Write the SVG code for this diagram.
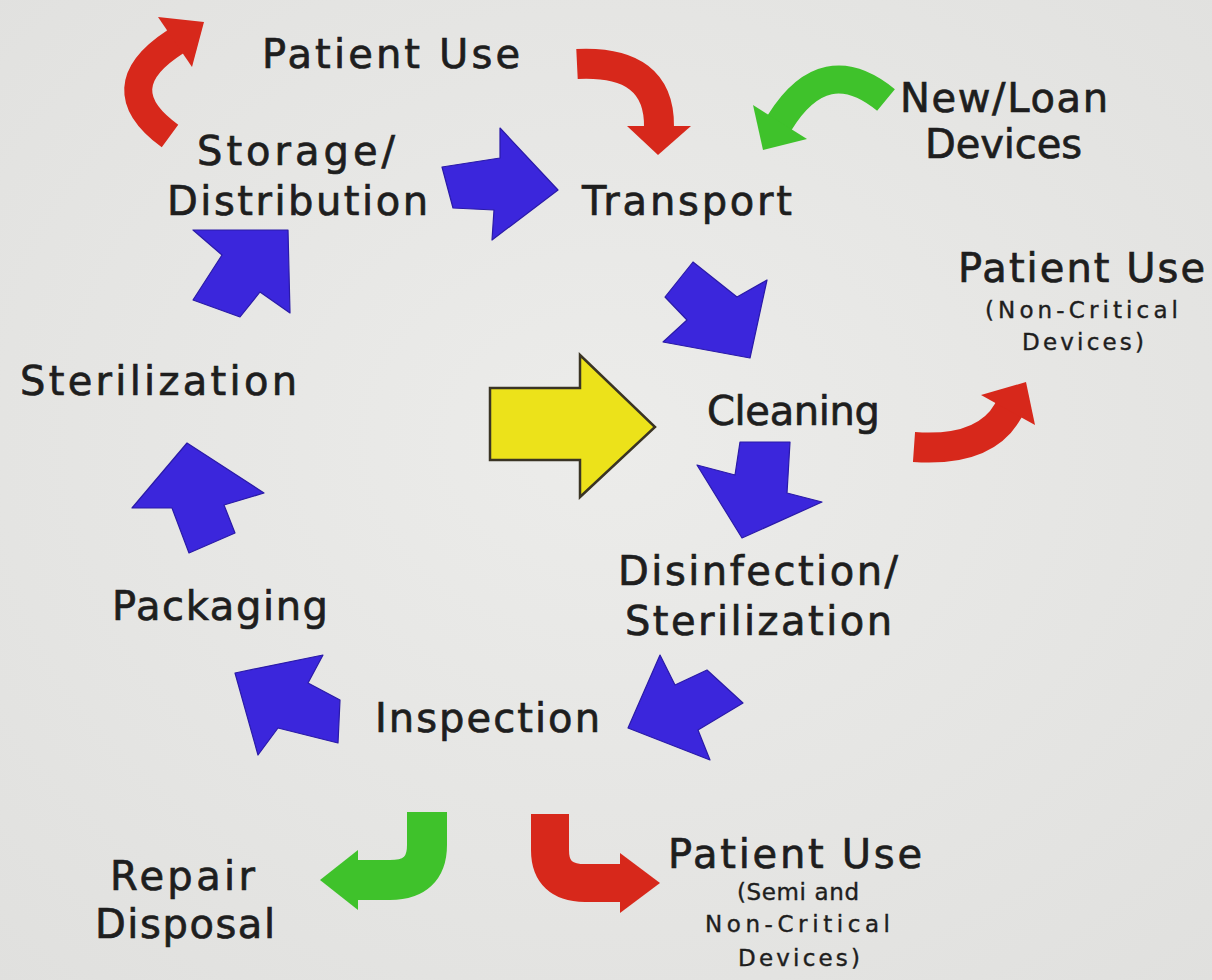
<svg xmlns="http://www.w3.org/2000/svg" width="1212" height="980" viewBox="0 0 1212 980">
  <defs>
    <radialGradient id="bg" cx="50%" cy="45%" r="75%">
      <stop offset="0" stop-color="#ececea"/>
      <stop offset="1" stop-color="#e0e0de"/>
    </radialGradient>
    <style>
      .lbl { font-family: "DejaVu Sans", "Liberation Sans", sans-serif; font-size: 40px; fill: #1e1e1e; stroke: #1e1e1e; stroke-width: 0.7px; }
      .sub { font-size: 23px; stroke-width: 0.4px; }
      .blue { fill: #3b26dc; stroke: #2a1aa8; stroke-width: 1.2; stroke-linejoin: round; }
      .yellow { fill: #ece21a; stroke: #3a3424; stroke-width: 2.5; stroke-linejoin: miter; }
      .band { fill: none; stroke-linecap: butt; stroke-linejoin: round; }
      .red { stroke: #d7281b; }
      .redf { fill: #d7281b; }
      .green { stroke: #3fc22b; }
      .greenf { fill: #3fc22b; }
    </style>
  </defs>

  <rect width="1212" height="980" fill="url(#bg)"/>

  <!-- flow arrows -->
  <g id="connectors">
    <!-- main reprocessing loop -->
    <polygon class="blue" points="442,167 500,158 500,128 558,190 492,240 494,210 453,208"/>
    <polygon class="blue" points="693,262 737,297 767,280 750,358 663,342 687,320 665,297"/>
    <polygon class="blue" points="740,442 790,442 787,493 822,502 742,538 697,465 735,475"/>
    <polygon class="blue" points="660,655 675,685 707,670 743,703 698,730 710,760 628,728"/>
    <polygon class="blue" points="235,673 323,655 308,683 340,700 338,743 278,728 258,755"/>
    <polygon class="blue" points="187,443 264,493 224,505 235,533 189,553 172,508 132,508"/>
    <polygon class="blue" points="288,230 290,313 260,292 240,317 193,300 222,255 193,230"/>

    <!-- entry point -->
    <polygon class="yellow" points="490,388 580,388 580,355 655,427 580,497 580,460 490,460"/>

    <!-- storage to patient use -->
    <path class="band red" stroke-width="28" d="M170,136 Q104,88 175,42 L180,38"/>
    <polygon class="redf" points="158,17 204,22 192,67"/>

    <!-- patient use back to transport -->
    <path class="band red" stroke-width="30" d="M577,64 Q660,60 659,127 L659,132"/>
    <polygon class="redf" points="627,126 691,126 658,155"/>

    <!-- new / loan devices into transport -->
    <path class="band green" stroke-width="28" d="M886,100 Q825,50 780,122 L777,127"/>
    <polygon class="greenf" points="753,105 807,139 763,150"/>

    <!-- cleaning to non-critical patient use -->
    <path class="band red" stroke-width="30" d="M914,447 Q985,452 1008,411 L1011,406"/>
    <polygon class="redf" points="981,395 1035,425 1026,382"/>

    <!-- inspection to repair / disposal -->
    <path class="band green" stroke-width="40" d="M427,812 L427,845 Q427,880 390,880 L352,880"/>
    <polygon class="greenf" points="358,850 358,910 320,880"/>

    <!-- inspection to semi / non-critical patient use -->
    <path class="band red" stroke-width="38" d="M550,814 L550,850 Q550,883 585,883 L626,883"/>
    <polygon class="redf" points="620,853 620,913 660,883"/>
  </g>

  <!-- stage labels -->
  <g id="patient-use-top"><text class="lbl" x="262" y="68" textLength="258">Patient Use</text></g>
  <g id="storage-distribution">
    <text class="lbl" x="197" y="165" textLength="198">Storage/</text>
    <text class="lbl" x="167" y="215" textLength="261">Distribution</text>
  </g>
  <g id="transport"><text class="lbl" x="582" y="215" textLength="210">Transport</text></g>
  <g id="new-loan-devices">
    <text class="lbl" x="900" y="112" textLength="208">New/Loan</text>
    <text class="lbl" x="925" y="158" textLength="157">Devices</text>
  </g>
  <g id="patient-use-noncritical">
    <text class="lbl" x="958" y="282" textLength="247">Patient Use</text>
    <text class="lbl sub" x="985" y="318" textLength="193">(Non-Critical</text>
    <text class="lbl sub" x="1022" y="350" textLength="122">Devices)</text>
  </g>
  <g id="sterilization"><text class="lbl" x="20" y="395" textLength="277">Sterilization</text></g>
  <g id="cleaning"><text class="lbl" x="707" y="425" textLength="173">Cleaning</text></g>
  <g id="disinfection-sterilization">
    <text class="lbl" x="618" y="585" textLength="280">Disinfection/</text>
    <text class="lbl" x="625" y="635" textLength="267">Sterilization</text>
  </g>
  <g id="packaging"><text class="lbl" x="112" y="620" textLength="216">Packaging</text></g>
  <g id="inspection"><text class="lbl" x="375" y="732" textLength="225">Inspection</text></g>
  <g id="patient-use-semicritical">
    <text class="lbl" x="668" y="868" textLength="254">Patient Use</text>
    <text class="lbl sub" x="737" y="900" textLength="122">(Semi and</text>
    <text class="lbl sub" x="705" y="932" textLength="185">Non-Critical</text>
    <text class="lbl sub" x="738" y="966" textLength="122">Devices)</text>
  </g>
  <g id="repair-disposal">
    <text class="lbl" x="110" y="890" textLength="145">Repair</text>
    <text class="lbl" x="95" y="938" textLength="180">Disposal</text>
  </g>
</svg>
